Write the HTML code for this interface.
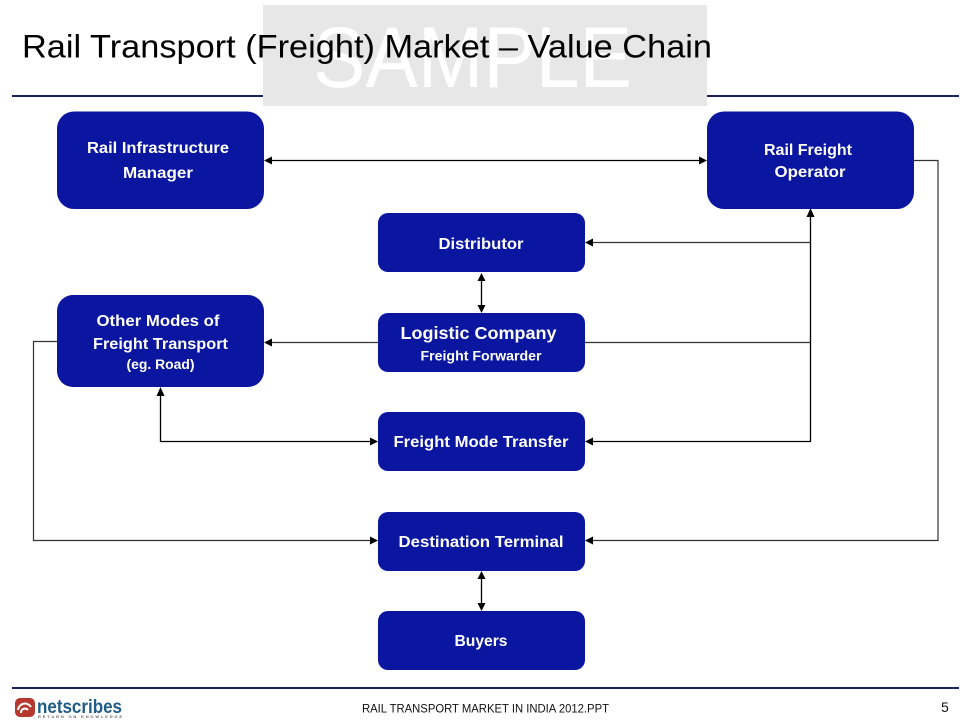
<!DOCTYPE html>
<html>
<head>
<meta charset="utf-8">
<style>
html,body{margin:0;padding:0;background:#fff;width:971px;height:728px;overflow:hidden}
svg{display:block}
text{font-family:"Liberation Sans",sans-serif}
.b{fill:#fff;font-weight:bold;text-anchor:middle}
.box{fill:#0a16a0}
.c{fill:none;stroke:#333;stroke-width:1.2}
.k{fill:none;stroke:#000;stroke-width:1.3}
.a{fill:#000}
</style>
</head>
<body>
<svg width="971" height="728" viewBox="0 0 971 728" xmlns="http://www.w3.org/2000/svg">
<rect width="971" height="728" fill="#fff"/>
<rect x="12" y="95" width="947" height="2" fill="#1a1f5e"/>
<rect x="12" y="687" width="947" height="2" fill="#1a1f5e"/>
<rect x="263" y="5" width="444" height="101" fill="#e7e7e7"/>
<text x="313" y="87" font-size="86" fill="#fff" textLength="319" lengthAdjust="spacingAndGlyphs">SAMPLE</text>
<text x="22" y="57.500" font-size="32" fill="#000" textLength="690" lengthAdjust="spacingAndGlyphs">Rail Transport (Freight) Market – Value Chain</text>

<!-- connectors -->
<path class="k" d="M270 160.500H701"/>
<path class="c" d="M914 160.500H938V540.500H592"/>
<path class="c" d="M591 242.500H810"/>
<path class="k" d="M810.500 215V441.500"/>
<path class="c" d="M585 342.500H810"/>
<path class="k" d="M591 441.500H811"/>
<path class="k" d="M481.500 279V307"/>
<path class="c" d="M378 342.500H270"/>
<path class="c" d="M57 341.500H33.500V540.500H372"/>
<path class="k" d="M160.500 393V441.500H372"/>
<path class="k" d="M481.500 577V605"/>

<!-- arrowheads -->
<polygon class="a" points="264,160.500 272,156.500 272,164.500"/>
<polygon class="a" points="707,160.500 699,156.500 699,164.500"/>
<polygon class="a" points="585,242.500 593,238.500 593,246.500"/>
<polygon class="a" points="810.500,208 806.500,217 814.500,217"/>
<polygon class="a" points="481.500,273 477.500,281 485.500,281"/>
<polygon class="a" points="481.500,313 477.500,305 485.500,305"/>
<polygon class="a" points="264,342.500 272,338.500 272,346.500"/>
<polygon class="a" points="160.500,387 156.500,396 164.500,396"/>
<polygon class="a" points="378,441.500 370,437.500 370,445.500"/>
<polygon class="a" points="585,441.500 593,437.500 593,445.500"/>
<polygon class="a" points="378,540.500 370,536.500 370,544.500"/>
<polygon class="a" points="585,540.500 593,536.500 593,544.500"/>
<polygon class="a" points="481.500,571 477.500,579 485.500,579"/>
<polygon class="a" points="481.500,611 477.500,603 485.500,603"/>

<!-- boxes -->
<rect class="box" x="57" y="111.500" width="207" height="97.500" rx="17"/>
<rect class="box" x="707" y="111.500" width="207" height="97.500" rx="17"/>
<rect class="box" x="378" y="213" width="207" height="59" rx="10"/>
<rect class="box" x="57" y="295" width="207" height="92" rx="16"/>
<rect class="box" x="378" y="313" width="207" height="59" rx="10"/>
<rect class="box" x="378" y="412" width="207" height="59" rx="10"/>
<rect class="box" x="378" y="512" width="207" height="59" rx="10"/>
<rect class="box" x="378" y="611" width="207" height="59" rx="10"/>

<!-- labels -->
<text class="b" x="158" y="153" font-size="15.500" textLength="142" lengthAdjust="spacingAndGlyphs">Rail Infrastructure</text>
<text class="b" x="158" y="178" font-size="15.500" textLength="70" lengthAdjust="spacingAndGlyphs">Manager</text>
<text class="b" x="808" y="155" font-size="15.500" textLength="88" lengthAdjust="spacingAndGlyphs">Rail Freight</text>
<text class="b" x="810" y="177" font-size="15.500" textLength="71" lengthAdjust="spacingAndGlyphs">Operator</text>
<text class="b" x="481" y="249" font-size="15.500" textLength="85" lengthAdjust="spacingAndGlyphs">Distributor</text>
<text class="b" x="158" y="326" font-size="15.500" textLength="123" lengthAdjust="spacingAndGlyphs">Other Modes of</text>
<text class="b" x="160.500" y="349" font-size="15.500" textLength="135" lengthAdjust="spacingAndGlyphs">Freight Transport</text>
<text class="b" x="160.500" y="369" font-size="13.500" textLength="68" lengthAdjust="spacingAndGlyphs">(eg. Road)</text>
<text class="b" x="478.500" y="339" font-size="17.500" textLength="156" lengthAdjust="spacingAndGlyphs">Logistic Company</text>
<text class="b" x="481" y="360.500" font-size="14" textLength="121" lengthAdjust="spacingAndGlyphs">Freight Forwarder</text>
<text class="b" x="481" y="447" font-size="15.500" textLength="175" lengthAdjust="spacingAndGlyphs">Freight Mode Transfer</text>
<text class="b" x="481" y="547" font-size="15.500" textLength="165" lengthAdjust="spacingAndGlyphs">Destination Terminal</text>
<text class="b" x="481" y="646" font-size="15.500" textLength="53" lengthAdjust="spacingAndGlyphs">Buyers</text>

<!-- footer -->
<g>
<rect x="15" y="698" width="20" height="19" rx="5" fill="#b5392e"/>
<path d="M18 710a7 7 0 0 1 13 -3M21 713a4 4 0 0 1 7 -3" fill="none" stroke="#fff" stroke-width="2"/>
<text x="37" y="713" font-size="19" font-weight="bold" fill="#1f5c86" textLength="85" lengthAdjust="spacingAndGlyphs">netscribes</text>
<text x="38" y="718" font-size="4" font-weight="bold" fill="#666" textLength="84" lengthAdjust="spacing">RETURN ON KNOWLEDGE</text>
</g>
<text x="362" y="712.500" font-size="11.500" fill="#111" textLength="247" lengthAdjust="spacingAndGlyphs">RAIL TRANSPORT MARKET IN INDIA 2012.PPT</text>
<text x="941" y="712" font-size="14" fill="#111">5</text>
</svg>
</body>
</html>
